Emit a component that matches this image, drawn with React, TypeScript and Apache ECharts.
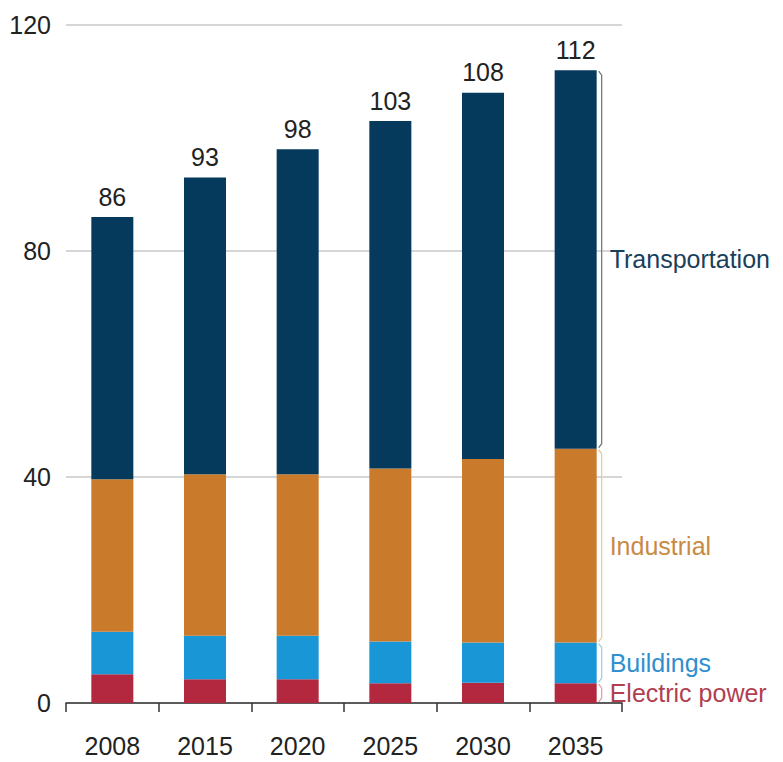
import React, { useEffect, useRef } from "react";
import * as echarts from "echarts";

const categories = ["2008", "2015", "2020", "2025", "2030", "2035"];
const electricPower = [5.1, 4.2, 4.2, 3.5, 3.6, 3.5];
const buildings = [7.5, 7.7, 7.7, 7.4, 7.1, 7.2];
const industrial = [27.0, 28.6, 28.6, 30.6, 32.5, 34.3];
const transportation = [46.4, 52.5, 57.5, 61.5, 64.8, 67.0];
const totals = [86, 93, 98, 103, 108, 112];
const yTicks = [0, 40, 80, 120];

const FONT = "'Liberation Sans', Arial, sans-serif";

const seriesDefs = [
  { name: "Electric power", data: electricPower, color: "#b3283f", labelColor: "#b04050", bracket: "#e3a0aa" },
  { name: "Buildings", data: buildings, color: "#1896d6", labelColor: "#2f8fd0", bracket: "#9fd0ee" },
  { name: "Industrial", data: industrial, color: "#c97a2b", labelColor: "#c98a45", bracket: "#ecc9a0" },
  { name: "Transportation", data: transportation, color: "#063a5c", labelColor: "#1a3f5a", bracket: "#6d7d8c" },
];

export default function App() {
  const ref = useRef<HTMLDivElement>(null);

  useEffect(() => {
    document.body.style.margin = "0";
    if (!ref.current) return;
    const chart = echarts.init(ref.current, undefined, { renderer: "svg" });
    const barWidth = 42;
    const option: any = {
      animation: false,
      grid: { left: 66, right: 161, top: 25, bottom: 59, containLabel: false },
      xAxis: {
        type: "category",
        data: categories,
        boundaryGap: true,
        axisLine: { show: true, lineStyle: { color: "#333", width: 1.5 } },
        axisTick: { show: true, length: 9, lineStyle: { color: "#333", width: 1.5 } },
        axisLabel: { color: "#222", fontSize: 25, fontFamily: FONT, margin: 30 },
      },
      yAxis: {
        type: "value",
        min: 0,
        max: 120,
        interval: 40,
        axisLine: { show: false },
        axisTick: { show: false },
        axisLabel: {
          color: "#222",
          fontSize: 25,
          fontFamily: FONT,
          margin: 15,
          formatter: (v: number) => (yTicks.includes(v) ? String(v) : ""),
        },
        splitLine: { show: true, lineStyle: { color: "#c8c8c8", width: 1.5 } },
      },
      series: seriesDefs.map((s, i) => ({
        name: s.name,
        type: "bar",
        stack: "total",
        barWidth,
        data: s.data,
        itemStyle: { color: s.color },
        label:
          i === seriesDefs.length - 1
            ? {
                show: true,
                position: "top",
                distance: 8,
                color: "#222",
                fontSize: 25,
                fontFamily: FONT,
                formatter: (p: any) => String(totals[p.dataIndex]),
              }
            : { show: false },
      })),
    };
    chart.setOption(option);

    const last = categories.length - 1;
    const lastCat = categories[last];
    const graphics: any[] = [];
    let lower = 0;
    seriesDefs.forEach((s) => {
      const upper = lower + s.data[last];
      const pTop = chart.convertToPixel({ xAxisIndex: 0, yAxisIndex: 0 }, [lastCat, upper]) as number[];
      const pBot = chart.convertToPixel({ xAxisIndex: 0, yAxisIndex: 0 }, [lastCat, lower]) as number[];
      const pMid = chart.convertToPixel({ xAxisIndex: 0, yAxisIndex: 0 }, [lastCat, (lower + upper) / 2]) as number[];
      const bx = pTop[0] + barWidth / 2 + 5;
      const hook = Math.min(4, (pBot[1] - pTop[1]) / 4);
      graphics.push({
        type: "polyline",
        shape: {
          points: [
            [bx - 3, pTop[1] + 1],
            [bx, pTop[1] + 1 + hook],
            [bx, pBot[1] - 1 - hook],
            [bx - 3, pBot[1] - 1],
          ],
        },
        style: { stroke: s.bracket, lineWidth: 1.3, fill: "none" },
        silent: true,
      });
      graphics.push({
        type: "text",
        x: pTop[0] + barWidth / 2 + 13,
        y: pMid[1],
        style: {
          text: s.name,
          fill: s.labelColor,
          fontSize: 25,
          fontFamily: FONT,
          textAlign: "left",
          textVerticalAlign: "middle",
        },
        silent: true,
      });
      lower = upper;
    });
    chart.setOption({ graphic: graphics });

    return () => chart.dispose();
  }, []);

  return (
    <div
      ref={ref}
      style={{ position: "absolute", left: 0, top: 0, width: 783, height: 762, background: "#fff" }}
    />
  );
}
